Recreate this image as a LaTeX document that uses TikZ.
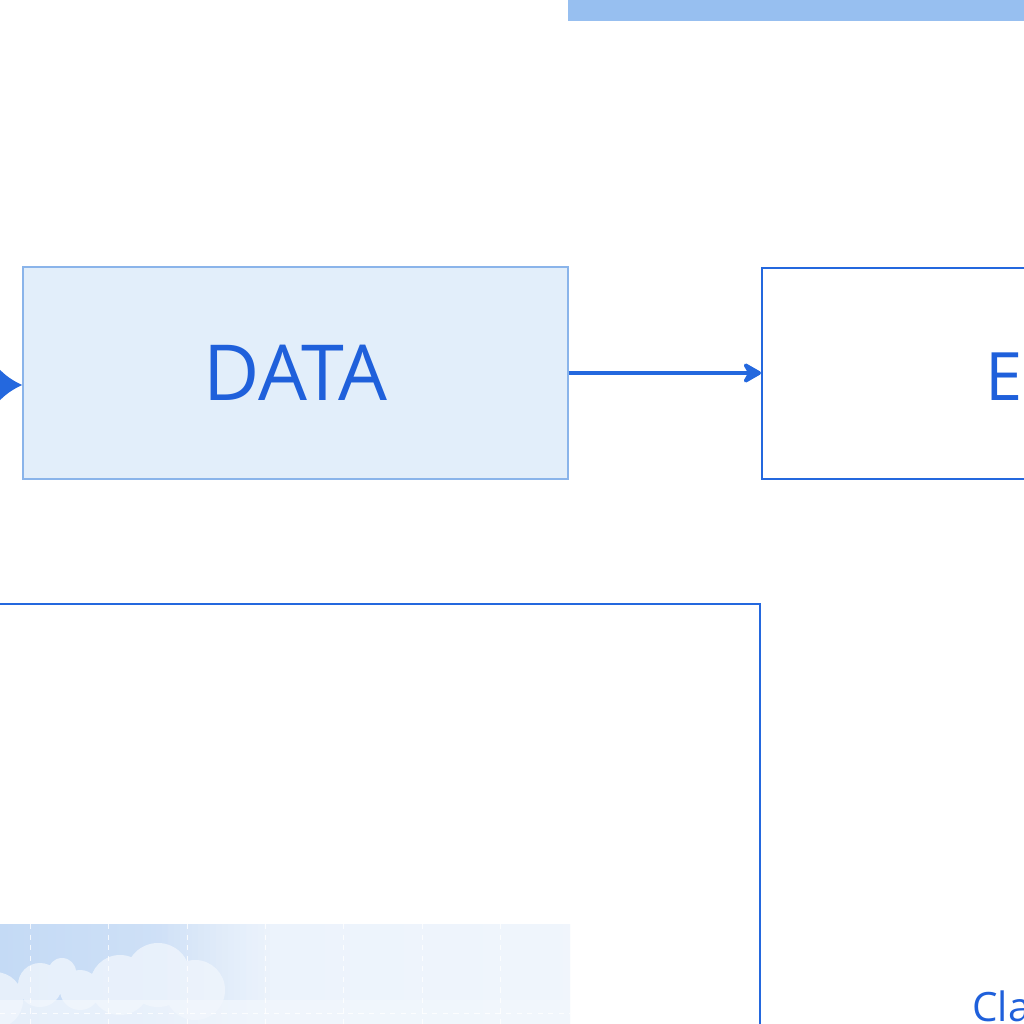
\documentclass[tikz,border=0pt]{standalone}
\usepackage{fontspec}
\setmainfont{Open Sans}
\usetikzlibrary{arrows.meta}
\usetikzlibrary{positioning}
\definecolor{flowblue}{RGB}{31,96,219}
\definecolor{flowline}{RGB}{36,104,222}
\definecolor{boxfill}{RGB}{226,238,250}
\definecolor{boxedge}{RGB}{138,180,234}
\definecolor{barblue}{RGB}{151,191,240}
\definecolor{skyleft}{RGB}{196,218,245}
\definecolor{skyright}{RGB}{232,240,251}
\definecolor{cloudwhite}{RGB}{242,247,253}
\tikzset{
  databox/.style={draw=boxedge, line width=0.8pt, fill=boxfill, minimum width=10.9cm,
    minimum height=4.24cm, inner sep=0pt, text=flowblue, font=\fontsize{44}{50}\selectfont},
  encbox/.style={draw=flowline, line width=1.4pt, fill=white, minimum width=10.9cm,
    minimum height=4.22cm, inner sep=0pt},
  flow/.style={draw=flowline, line width=2.8pt},
  label/.style={text=flowblue, inner sep=0pt}
}
\begin{document}
\begin{tikzpicture}[x=0.02cm, y=-0.02cm]
  \useasboundingbox (0,0) rectangle (1024,1024);
  \clip (0,0) rectangle (1024,1024);
  	% top bar
  	\fill[barblue] (568,-20) rectangle (1040,21);
  	% boxes
  	\node[databox] (data) at (295.5,373) {DATA};
  	\node[encbox, anchor=west] (enc) at (761,373.5) {};
  	\node[label, anchor=base west, font=\fontsize{38}{46}\selectfont] (enctext) at (985,400) {E};
  	% lower box with picture
  	\draw[draw=flowline, line width=1.2pt] (-20,604) rectangle (760,1100);
  	\begin{scope}
  		\clip (0,924) rectangle (570,1024);
  		\shade[left color=skyleft, right color=skyright] (0,924) rectangle (570,1024);
  		\fill[cloudwhite, opacity=0.75] (-5,1000) circle (28) (40,985) circle (22) (62,972) circle (14)
  			(80,990) circle (20) (120,985) circle (30) (158,975) circle (32) (195,990) circle (30);
  		\foreach \i in {0,...,19}{
  			\fill[cloudwhite, opacity=\i*0.04] (150+\i*6,924) rectangle (156+\i*6,1024);
  		}
  		\fill[cloudwhite, opacity=0.8] (270,924) rectangle (570,1024);
  		\fill[cloudwhite, opacity=0.75] (0,1000) rectangle (570,1024);
  		\foreach \x in {30,108,187,265,343,422,500}{
  			\draw[white, dashed, line width=0.5pt, opacity=0.8] (\x,924) -- (\x,1024);
  		}
  		\draw[white, dashed, line width=0.5pt, opacity=0.8] (0,1013) -- (570,1013);
  	\end{scope}
  	\node[label, anchor=base west, font=\fontsize{23}{28}\selectfont] (cltext) at (972,1021) {Cla};
  	% arrows
  	\coordinate (inflow) at (-60,385);
  	\draw[flow, -{Latex[length=0.46cm, width=0.66cm]}] (inflow) -- (inflow -| data.west);
  	\draw[flow, -{Stealth[length=0.44cm, width=0.5cm, round]}] (data.east |- 0,373) -- (enc.west |- 0,373);
\end{tikzpicture}
\end{document}
